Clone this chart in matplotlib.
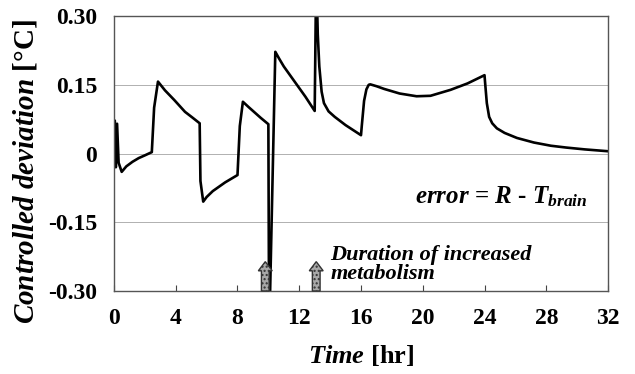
import matplotlib
matplotlib.use("Agg")
import matplotlib.pyplot as plt
from matplotlib.patches import FancyArrow

plt.rcParams["font.family"] = ["Liberation Serif", "DejaVu Serif"]
plt.rcParams["font.weight"] = "bold"
plt.rcParams["mathtext.fontset"] = "custom"
plt.rcParams["mathtext.rm"] = "Liberation Serif:bold"
plt.rcParams["mathtext.bfit"] = "Liberation Serif:italic:bold"
plt.rcParams["mathtext.it"] = "Liberation Serif:italic:bold"

# time [hr] and controlled deviation [C]
time_hr = [0.0, 0.05, 0.12, 0.2, 0.3, 0.5, 0.8, 1.2, 1.6, 2.0, 2.45,
           2.6, 2.85, 3.3, 3.9, 4.6, 5.1, 5.55,
           5.6, 5.78, 6.0, 6.4, 7.2, 8.0,
           8.15, 8.35, 8.7, 9.0, 9.5, 10.0,
           10.05, 10.45, 10.7, 11.0, 11.7, 12.4, 13.0,
           13.1, 13.2, 13.3, 13.45, 13.6, 13.9, 14.3, 15.0, 16.0,
           16.05, 16.2, 16.35, 16.5, 16.6, 17.0, 17.5, 18.5, 19.6, 20.5, 21.8, 22.9, 24.0,
           24.05, 24.15, 24.3, 24.5, 24.8, 25.3, 26.1, 27.2, 28.3, 29.3, 30.5, 32.0]
deviation = [0.0, 0.072, -0.03, 0.065, -0.02, -0.04, -0.028, -0.018, -0.01, -0.004, 0.003,
             0.10, 0.157, 0.138, 0.117, 0.091, 0.078, 0.066,
             -0.06, -0.105, -0.095, -0.082, -0.063, -0.047,
             0.06, 0.113, 0.102, 0.093, 0.078, 0.064,
             -0.40, 0.222, 0.207, 0.19, 0.157, 0.124, 0.093,
             0.40, 0.26, 0.19, 0.135, 0.11, 0.092, 0.08, 0.062, 0.04,
             0.06, 0.115, 0.14, 0.15, 0.151, 0.147, 0.141, 0.131, 0.125, 0.126, 0.139, 0.153, 0.171,
             0.15, 0.11, 0.08, 0.066, 0.055, 0.045, 0.034, 0.024, 0.017, 0.013, 0.009, 0.005]

x_ticks = [0, 4, 8, 12, 16, 20, 24, 28, 32]
y_ticks = [-0.30, -0.15, 0, 0.15, 0.30]
y_labels = ["-0.30", "-0.15", "0", "0.15", "0.30"]
arrow_times = [9.8, 13.1]

fig = plt.figure(figsize=(6.35, 3.74), dpi=100)
ax = fig.add_axes([0.1795, 0.222, 0.778, 0.735])

ax.plot(time_hr, deviation, color="black", lw=1.9, solid_joinstyle="round")

ax.set_xlim(0, 32)
ax.set_ylim(-0.30, 0.30)
ax.set_xticks(x_ticks)
ax.set_yticks(y_ticks)
ax.set_yticklabels(y_labels)
ax.tick_params(axis="x", direction="in", length=4, labelsize=17, pad=12, color="#444")
ax.tick_params(axis="y", length=0, labelsize=17, pad=12)
for lab in ax.get_xticklabels() + ax.get_yticklabels():
    lab.set_fontweight("bold")

ax.yaxis.grid(True, color="#b0b0b0", lw=0.7)
ax.set_axisbelow(True)
for s in ax.spines.values():
    s.set_color("#555555")
    s.set_linewidth(1.0)

ax.set_xlabel(r"$\mathbfit{Time}$ [hr]", fontsize=19, fontweight="bold", labelpad=10)
ax.set_ylabel(r"$\mathbfit{Controlled\ deviation}$ [$\degree$C]", fontsize=21,
              fontweight="bold", labelpad=8)
ax.yaxis.set_label_coords(-0.15, 0.435)

ax.text(19.5, -0.095, r"$\mathbfit{error}$ = $\mathbfit{R}$ - $\mathbfit{T}_{\mathbfit{brain}}$",
        fontsize=18, ha="left", va="center")
ax.text(14.0, -0.243, "Duration of increased\nmetabolism", fontsize=16,
        fontweight="bold", fontstyle="italic", ha="left", va="center", linespacing=0.95)

for t in arrow_times:
    ax.add_patch(FancyArrow(t, -0.30, 0, 0.064, width=0.5, head_width=0.9,
                            head_length=0.02, length_includes_head=True,
                            facecolor="#a8a8a8", edgecolor="#333333", lw=1.0,
                            hatch="....", zorder=4, clip_on=False))

fig.savefig("out.png", dpi=100)
